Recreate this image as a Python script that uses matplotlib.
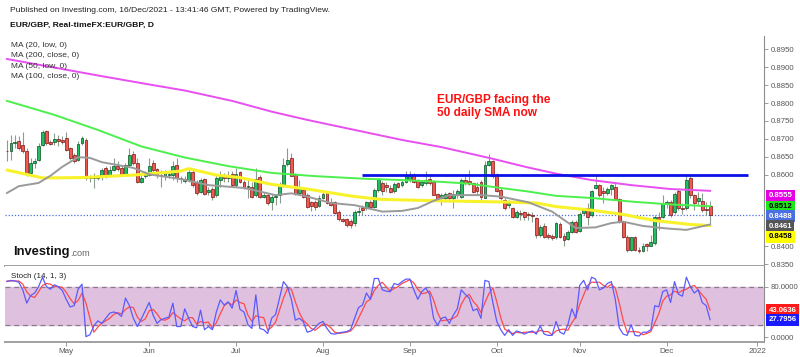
import matplotlib

matplotlib.use("Agg")
import matplotlib.pyplot as plt
import matplotlib.transforms as mtransforms
import pandas as pd

plt.rcParams["font.family"] = ["Liberation Sans", "DejaVu Sans"]

# ---- data ----------------------------------------------------------------
DATES = pd.bdate_range("2021-04-12", "2021-12-16")

OPEN = [
    .8667, .8665, .8688, .8695, .8683, .8665, .8604, .8632, .8641, .8683,
    .8722, .8691, .8691, .8700, .8697, .8702, .8674, .8655, .8641, .8688,
    .8697, .8590, .8592, .8590, .8595, .8618, .8598, .8614, .8623, .8618,
    .8602, .8627, .8657, .8632, .8581, .8597, .8600, .8632, .8616, .8600,
    .8595, .8600, .8600, .8627, .8590, .8583, .8586, .8607, .8576, .8553,
    .8588, .8551, .8560, .8544, .8585, .8600, .8590, .8602, .8572, .8607,
    .8581, .8565, .8567, .8542, .8593, .8539, .8542, .8525, .8537, .8542,
    .8570, .8629, .8646, .8600, .8548, .8558, .8544, .8523, .8523, .8514,
    .8534, .8551, .8523, .8523, .8497, .8475, .8477, .8470, .8465, .8495,
    .8506, .8508, .8523, .8511, .8558, .8576, .8570, .8564, .8555, .8576,
    .8572, .8581, .8586, .8598, .8586, .8572, .8576, .8588, .8581, .8546,
    .8534, .8536, .8548, .8536, .8544, .8539, .8586, .8583, .8576, .8567,
    .8581, .8536, .8627, .8637, .8600, .8558, .8530, .8516, .8506, .8483,
    .8492, .8495, .8490, .8488, .8479, .8432, .8458, .8432, .8430, .8425,
    .8462, .8430, .8421, .8439, .8469, .8444, .8492, .8506, .8488, .8562,
    .8570, .8555, .8548, .8560, .8567, .8532, .8469, .8427, .8390, .8427,
    .8390, .8386, .8406, .8402, .8409, .8483, .8483, .8518, .8523, .8497,
    .8555, .8506, .8506, .8590, .8542, .8527, .8527, .8504, .8514,
]
HIGH = [
    .8697, .8711, .8711, .8707, .8720, .8674, .8646, .8646, .8688, .8725,
    .8725, .8697, .8716, .8711, .8707, .8720, .8676, .8660, .8693, .8707,
    .8702, .8600, .8604, .8600, .8618, .8623, .8623, .8646, .8637, .8627,
    .8632, .8674, .8665, .8646, .8604, .8609, .8646, .8641, .8618, .8614,
    .8614, .8609, .8637, .8646, .8595, .8595, .8614, .8614, .8586, .8590,
    .8590, .8567, .8567, .8600, .8609, .8604, .8609, .8611, .8618, .8609,
    .8586, .8586, .8581, .8618, .8600, .8551, .8548, .8546, .8544, .8581,
    .8646, .8674, .8660, .8604, .8586, .8567, .8548, .8527, .8530, .8544,
    .8553, .8555, .8534, .8527, .8502, .8480, .8479, .8475, .8502, .8511,
    .8516, .8527, .8530, .8562, .8592, .8583, .8581, .8572, .8581, .8581,
    .8586, .8609, .8609, .8604, .8588, .8586, .8609, .8600, .8586, .8548,
    .8548, .8551, .8553, .8558, .8560, .8590, .8595, .8614, .8581, .8581,
    .8586, .8637, .8658, .8641, .8604, .8564, .8534, .8530, .8511, .8502,
    .8502, .8499, .8497, .8497, .8483, .8460, .8465, .8437, .8434, .8469,
    .8467, .8437, .8446, .8474, .8474, .8495, .8506, .8520, .8558, .8600,
    .8574, .8567, .8567, .8574, .8576, .8534, .8471, .8432, .8427, .8430,
    .8397, .8409, .8409, .8432, .8488, .8497, .8543, .8530, .8530, .8551,
    .8560, .8520, .8601, .8597, .8546, .8553, .8548, .8523, .8527,
]
LOW = [
    .8637, .8641, .8674, .8669, .8660, .8595, .8600, .8618, .8637, .8679,
    .8683, .8683, .8683, .8679, .8685, .8665, .8641, .8632, .8637, .8683,
    .8586, .8581, .8562, .8586, .8586, .8590, .8595, .8609, .8609, .8595,
    .8600, .8623, .8627, .8576, .8576, .8590, .8595, .8604, .8590, .8567,
    .8586, .8590, .8586, .8581, .8576, .8576, .8581, .8567, .8544, .8548,
    .8544, .8544, .8530, .8539, .8567, .8581, .8581, .8567, .8567, .8576,
    .8560, .8534, .8536, .8539, .8536, .8534, .8516, .8502, .8516, .8520,
    .8567, .8623, .8595, .8544, .8546, .8534, .8507, .8499, .8502, .8511,
    .8532, .8518, .8514, .8490, .8471, .8467, .8455, .8451, .8458, .8488,
    .8488, .8502, .8508, .8506, .8553, .8544, .8553, .8548, .8548, .8564,
    .8567, .8576, .8581, .8576, .8564, .8567, .8572, .8572, .8542, .8527,
    .8516, .8525, .8523, .8506, .8536, .8534, .8572, .8570, .8548, .8544,
    .8530, .8534, .8623, .8590, .8551, .8530, .8502, .8506, .8478, .8478,
    .8474, .8474, .8474, .8469, .8423, .8427, .8423, .8420, .8418, .8421,
    .8423, .8402, .8418, .8437, .8437, .8439, .8488, .8460, .8483, .8560,
    .8539, .8520, .8544, .8544, .8530, .8465, .8423, .8384, .8386, .8386,
    .8381, .8384, .8386, .8400, .8404, .8446, .8479, .8506, .8483, .8490,
    .8502, .8490, .8502, .8536, .8502, .8516, .8497, .8488, .8460,
]
CLOSE = [
    .8666, .8688, .8690, .8674, .8665, .8604, .8632, .8637, .8679, .8720,
    .8688, .8687, .8700, .8693, .8691, .8669, .8648, .8637, .8685, .8702,
    .8590, .8593, .8592, .8595, .8614, .8595, .8614, .8623, .8616, .8602,
    .8627, .8655, .8632, .8581, .8592, .8602, .8623, .8614, .8600, .8595,
    .8604, .8601, .8623, .8590, .8588, .8588, .8607, .8572, .8548, .8586,
    .8546, .8558, .8539, .8592, .8600, .8590, .8597, .8570, .8602, .8579,
    .8565, .8569, .8539, .8588, .8539, .8542, .8520, .8539, .8540, .8572,
    .8626, .8641, .8597, .8546, .8567, .8537, .8511, .8514, .8511, .8536,
    .8546, .8520, .8516, .8493, .8477, .8471, .8460, .8460, .8497, .8500,
    .8502, .8523, .8511, .8558, .8588, .8555, .8567, .8553, .8574, .8567,
    .8581, .8598, .8600, .8581, .8567, .8581, .8586, .8576, .8544, .8532,
    .8544, .8546, .8534, .8546, .8555, .8585, .8576, .8574, .8553, .8555,
    .8539, .8627, .8637, .8595, .8555, .8534, .8506, .8520, .8483, .8495,
    .8490, .8483, .8488, .8486, .8432, .8455, .8427, .8425, .8423, .8465,
    .8427, .8418, .8439, .8469, .8441, .8490, .8502, .8483, .8555, .8572,
    .8544, .8548, .8560, .8570, .8532, .8467, .8427, .8390, .8425, .8390,
    .8386, .8402, .8400, .8411, .8483, .8477, .8520, .8523, .8488, .8546,
    .8506, .8504, .8586, .8542, .8520, .8534, .8502, .8502, .8488,
]

# moving averages, read at sampled bars (bar index, price)
MA200_IDX = [0, 11, 24, 37, 45, 57, 67, 76, 88, 100, 110, 122, 132, 139, 148, 158, 168, 178]
MA200_VAL = [.8923, .8901, .8875, .8850, .8835, .8806, .8776, .8753, .8725, .8697,
             .8677, .8647, .8620, .8603, .8585, .8571, .8560, .8555]
MA50_IDX = [0, 12, 23, 34, 45, 56, 67, 78, 90, 100, 110, 117, 125, 132, 139, 148, 158, 168, 178]
MA50_VAL = [.8806, .8767, .8725, .8679, .8648, .8624, .8605, .8596, .8589, .8585,
            .8580, .8575, .8563, .8553, .8541, .8535, .8525, .8517, .8512]
MA100_IDX = [0, 9, 19, 32, 44, 46, 53, 59, 67, 76, 88, 95, 110, 125, 134, 139, 148, 156, 164, 173, 178]
MA100_VAL = [.8613, .8591, .8592, .8599, .8610, .8617, .8599, .8592, .8573, .8560,
             .8539, .8531, .8527, .8524, .8521, .8511, .8501, .8489, .8472, .8461, .8458]
MA20_IDX = [0, 3, 8, 11, 14, 18, 21, 24, 32, 36, 44, 51, 60, 68, 72, 76, 82, 88, 95,
            100, 104, 108, 112, 120, 125, 132, 138, 144, 149, 153, 156, 161, 167, 172, 178]
MA20_VAL = [.8549, .8568, .8577, .8597, .8622, .8649, .8647, .8635, .8619, .8601,
            .8588, .8571, .8563, .8543, .8548, .8539, .8521, .8515, .8497, .8499,
            .8507, .8527, .8543, .8543, .8539, .8523, .8497, .8451, .8453, .8465,
            .8469, .8457, .8450, .8446, .8461]

RESIST_LEVEL = 0.8600
RESIST_FROM, RESIST_TO = 90, 187.6
LAST_PRICE = 0.8488

STOCH_K = [
    88, 90, 89, 87, 75, 54, 66, 70, 80, 95,
    80, 76, 83, 80, 74, 60, 48, 50, 76, 84,
    1, 4, 18, 26, 22, 30, 38, 40, 38, 33,
    62, 50, 30, 17, 29, 42, 55, 35, 22, 28,
    30, 32, 54, 17, 17, 45, 30, 17, 15, 43,
    12, 17, 12, 40, 59, 51, 56, 46, 74, 44,
    40, 20, 14, 67, 14, 12, 6, 30, 36, 62,
    88, 80, 60, 27, 30, 25, 8, 10, 15, 22,
    25, 14, 6, 5, 7, 8, 9, 12, 30, 47,
    51, 70, 60, 93, 93, 75, 73, 72, 85, 83,
    88, 92, 92, 75, 60, 72, 78, 68, 30, 19,
    30, 32, 22, 35, 45, 75, 68, 62, 42, 45,
    30, 90, 88, 55, 25, 12, 3, 12, 3, 10,
    8, 5, 8, 10, 5, 18, 5, 3, 3, 25,
    8, 5, 20, 45, 30, 82, 90, 75, 95, 92,
    75, 78, 85, 88, 60, 15, 5, 3, 20, 3,
    2, 8, 8, 12, 50, 48, 72, 75, 55, 88,
    68, 65, 95, 80, 70, 75, 55, 50, 27.7956,
]
STOCH_D = [
    89, 89, 89, 89, 84, 72, 65, 63, 72, 82,
    85, 84, 80, 80, 79, 71, 61, 53, 58, 70,
    54, 30, 8, 16, 22, 26, 30, 36, 39, 37,
    44, 48, 47, 32, 25, 29, 42, 44, 37, 28,
    27, 30, 39, 34, 29, 26, 31, 31, 21, 25,
    23, 24, 14, 23, 37, 50, 55, 51, 59, 55,
    53, 35, 25, 34, 32, 31, 11, 16, 24, 43,
    62, 77, 76, 56, 39, 27, 21, 14, 11, 16,
    21, 20, 15, 8, 6, 7, 8, 10, 17, 30,
    43, 56, 60, 74, 82, 87, 80, 73, 77, 80,
    85, 88, 91, 86, 76, 69, 70, 73, 59, 39,
    26, 27, 28, 30, 34, 52, 63, 68, 57, 50,
    39, 55, 69, 78, 56, 31, 13, 9, 6, 8,
    7, 8, 8, 8, 8, 11, 9, 9, 4, 10,
    12, 13, 11, 23, 32, 52, 67, 82, 87, 87,
    87, 82, 79, 84, 78, 54, 27, 8, 9, 9,
    8, 4, 6, 9, 23, 37, 57, 65, 67, 73,
    70, 74, 76, 80, 82, 75, 67, 60, 43.0636,
]

PRICE_TICKS = [0.835, 0.840, 0.860, 0.865, 0.870, 0.875, 0.880, 0.885, 0.890, 0.895]
STOCH_TICKS = [0, 80]

# ---- layout --------------------------------------------------------------
W, H = 800, 357
PLOT_L, PLOT_R = 5, 764
MAIN_T, MAIN_B = 36, 266
STOCH_B = 341.7

GRAY_TXT = "#555555"
AXIS_COL = "#8c8c8c"

fig = plt.figure(figsize=(W / 100, H / 100), dpi=100)
fig.patch.set_facecolor("white")

ax = fig.add_axes([PLOT_L / W, 1 - MAIN_B / H, (PLOT_R - PLOT_L) / W, (MAIN_B - MAIN_T) / H])
ax2 = fig.add_axes([PLOT_L / W, 1 - STOCH_B / H, (PLOT_R - PLOT_L) / W, (STOCH_B - MAIN_B) / H])

n = len(DATES)
xs = range(n)
x_lo, x_hi = -0.5, 191.65

# candles
for i in xs:
    o, h, l, c = OPEN[i], HIGH[i], LOW[i], CLOSE[i]
    up = c >= o
    ax.vlines(i, l, h, color="#8c9c8c", lw=0.8, zorder=2)
    body = max(abs(c - o), 0.00012)
    ax.bar(i, body, bottom=min(o, c), width=0.72,
           color="#20c060" if up else "#ee5a50",
           edgecolor="#0d4d24" if up else "#7a1414", linewidth=0.5, zorder=3)

# moving averages
ax.plot(MA100_IDX, MA100_VAL, color="#f8f22a", lw=2.2, zorder=4, solid_capstyle="round")
ax.plot(MA20_IDX, MA20_VAL, color="#9a9a9a", lw=1.4, zorder=4)
ax.plot(MA50_IDX, MA50_VAL, color="#4cf04c", lw=1.4, zorder=4)
ax.plot(MA200_IDX, MA200_VAL, color="#e84ef0", lw=1.4, zorder=4)

ax.axhline(LAST_PRICE, color="#4a6fe3", lw=0.9, ls=(0, (1, 1.5)), zorder=1)
ax.hlines(RESIST_LEVEL, RESIST_FROM, RESIST_TO, color="#0a10e8", lw=2.0, zorder=5)

ax.set_xlim(x_lo, x_hi)
ax.set_ylim(0.8950 - (MAIN_B - 49.3) / 3583, 0.8950 - (MAIN_T - 49.3) / 3583)
ax.set_xticks([])
ax.yaxis.tick_right()
ax.set_yticks(PRICE_TICKS)
ax.set_yticklabels([f"{t:.4f}" for t in PRICE_TICKS])
ax.tick_params(axis="y", length=3, width=0.6, color=AXIS_COL, labelsize=5.6,
               labelcolor=GRAY_TXT, pad=2)
for s in ("top", "left"):
    ax.spines[s].set_visible(False)
ax.spines["right"].set_color(AXIS_COL)
ax.spines["bottom"].set_color("#a0a0a0")
ax.spines["bottom"].set_linewidth(1.4)

# coloured value tags on the price scale (stacked like the platform does)
tag_tr = mtransforms.blended_transform_factory(ax.transAxes, ax.transData)
TAGS = [
    ("0.8555", 0.85414, "#e600e6", "white"),
    ("0.8512", 0.85107, "#1de61d", "black"),
    ("0.8488", 0.84847, "#4a6fe3", "white"),
    ("0.8461", 0.84568, "#555555", "white"),
    ("0.8458", 0.84270, "#ffff00", "black"),
]
for txt, ypos, bg, fg in TAGS:
    ax.text(1.006, ypos, txt, transform=tag_tr, ha="left", va="center", fontsize=5.6,
            fontweight="bold", color=fg, clip_on=False,
            bbox=dict(boxstyle="square,pad=0.3", fc=bg, ec="none"))

# stochastic panel
ax2.axhspan(20, 80, color="#dfc1df", zorder=0)
for lvl in (20, 80):
    ax2.axhline(lvl, color="#8a7a8a", lw=0.9, ls=(0, (4, 3)), zorder=1)
ax2.plot(xs, STOCH_K, color="#5a5aff", lw=0.9, zorder=3)
ax2.plot(xs, STOCH_D, color="#ff4a4a", lw=0.9, zorder=2)
ax2.set_xlim(x_lo, x_hi)
ax2.set_ylim(-7.0, 112.7)
ax2.yaxis.tick_right()
ax2.set_yticks(STOCH_TICKS)
ax2.set_yticklabels([f"{t:.4f}" for t in STOCH_TICKS])
ax2.tick_params(axis="y", length=3, width=0.6, color=AXIS_COL, labelsize=5.6,
                labelcolor=GRAY_TXT, pad=2)
for s in ("top", "left"):
    ax2.spines[s].set_visible(False)
ax2.spines["right"].set_color(AXIS_COL)
ax2.spines["bottom"].set_color("#a0a0a0")
ax2.spines["bottom"].set_linewidth(1.4)

tag_tr2 = mtransforms.blended_transform_factory(ax2.transAxes, ax2.transData)
for val, bg in ((STOCH_D[-1], "#ff1a1a"), (STOCH_K[-1], "#1a1aff")):
    ax2.text(1.006, val, f"{val:.4f}", transform=tag_tr2, ha="left", va="center",
             fontsize=5.6, fontweight="bold", color="white", clip_on=False,
             bbox=dict(boxstyle="square,pad=0.3", fc=bg, ec="none"))

# month ticks at first bar of each month, plus 2022 beyond the data
month_pos, month_lab = [], []
for i, d in enumerate(DATES):
    if i > 0 and d.month != DATES[i - 1].month:
        month_pos.append(i)
        month_lab.append(d.strftime("%b"))
month_pos.append(n + len(pd.bdate_range("2021-12-17", "2021-12-31")))
month_lab.append("2022")
ax2.set_xticks(month_pos)
ax2.set_xticklabels(month_lab)
ax2.tick_params(axis="x", length=3, width=0.6, color=AXIS_COL, labelsize=5.8,
                labelcolor=GRAY_TXT, pad=1.5)

# ---- texts -----------------------------------------------------------------
def fy(py):
    return 1 - py / H

fig.text(10 / W, fy(11), "Published on Investing.com, 16/Dec/2021 - 13:41:46 GMT, Powered by TradingView.",
         fontsize=6.1, color="#222222", va="center")
fig.text(10 / W, fy(25), "EUR/GBP, Real-timeFX:EUR/GBP, D", fontsize=6.1, fontweight="bold",
         color="#111111", va="center")
for k, lab in enumerate(["MA (20, low, 0)", "MA (200, close, 0)", "MA (50, low, 0)", "MA (100, close, 0)"]):
    fig.text(11 / W, fy(45.3 + k * 10.4), lab, fontsize=6.0, color="#333333", va="center")

fig.text(437 / W, fy(106.5), "EUR/GBP facing the\n50 daily SMA now", fontsize=8.6,
         fontweight="bold", color="#ff1010", va="center", linespacing=1.15)

# logo: ".com" hangs off the right edge of the bold word
logo = fig.text(13 / W, fy(252.5), "Investing", fontsize=9.3, fontweight="bold",
                color="#111111", va="center")
ax.annotate(".com", xy=(1.0, 0.08), xycoords=logo, xytext=(0.5, 0), textcoords="offset points",
            ha="left", va="bottom", fontsize=6.6, color="#666666", annotation_clip=False)

fig.text(11 / W, fy(276.5), "Stoch (14, 1, 3)", fontsize=5.8, color="#222222", va="center")

fig.savefig("out.png", dpi=100, facecolor="white")
